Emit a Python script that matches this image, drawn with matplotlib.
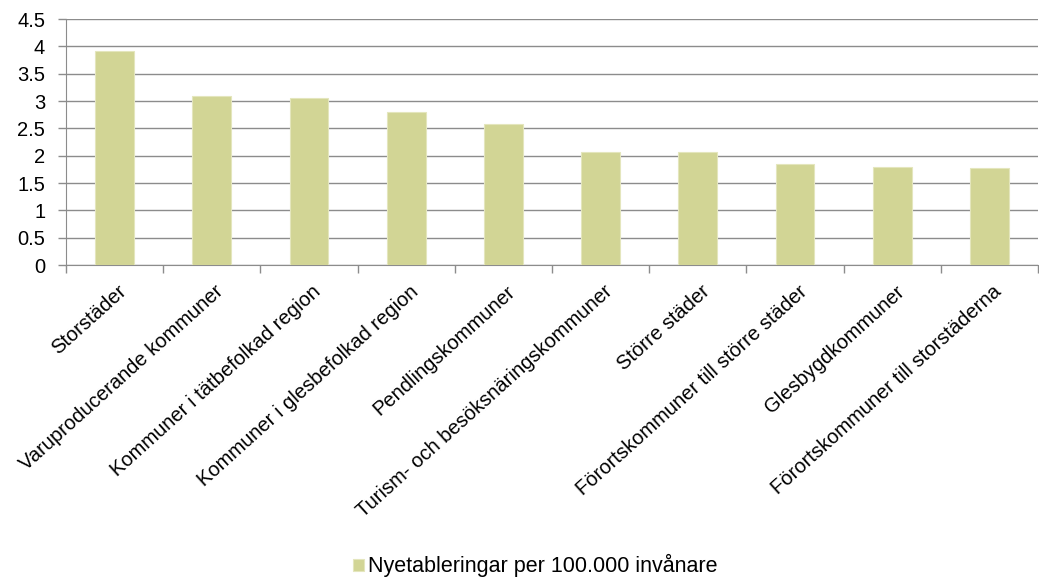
import matplotlib.pyplot as plt
import numpy as np

plt.rcParams['font.family'] = ['Liberation Sans', 'DejaVu Sans']

# kategorier och värden
kategorier = ['Storstäder', 'Varuproducerande kommuner', 'Kommuner i tätbefolkad region',
              'Kommuner i glesbefolkad region', 'Pendlingskommuner',
              'Turism- och besöksnäringskommuner', 'Större städer',
              'Förortskommuner till större städer', 'Glesbygdkommuner',
              'Förortskommuner till storstäderna']
varden = [3.91, 3.10, 3.05, 2.79, 2.58, 2.06, 2.06, 1.85, 1.80, 1.77]
serie_namn = 'Nyetableringar per 100.000 invånare'
yticks = [0, 0.5, 1, 1.5, 2, 2.5, 3, 3.5, 4, 4.5]

fig = plt.figure(figsize=(10.39, 5.85), dpi=100)
ax = fig.add_axes([0.0635, 0.547, 0.9355, 0.4205])

x = np.arange(len(kategorier))
ax.bar(x, varden, width=0.4, color='#D2D595', edgecolor='#E4E6BD', linewidth=0.8,
       label=serie_namn, zorder=3)

ax.set_xlim(-0.5, len(kategorier) - 0.5)
ax.set_ylim(0, 4.5)
ax.set_yticks(yticks)
ax.set_yticklabels([f'{v:g}' for v in yticks], fontsize=14.5)
ax.yaxis.grid(True, color='#8C8C8C', linewidth=1.0, zorder=0)

# kategoriticks mellan staplarna
ax.set_xticks(np.arange(-0.5, len(kategorier), 1.0))
ax.set_xticklabels([])
ax.tick_params(axis='x', length=6, color='#8C8C8C', width=1)
ax.tick_params(axis='y', length=6, color='#8C8C8C', width=1, pad=9)
for i, k in enumerate(kategorier):
    ax.annotate(k, xy=(i, 0), xycoords=('data', 'axes fraction'),
                xytext=(2, -12), textcoords='offset points',
                rotation=42, ha='right', va='top', fontsize=14.5,
                rotation_mode='anchor')

for s in ['top', 'right']:
    ax.spines[s].set_visible(False)
for s in ['left', 'bottom']:
    ax.spines[s].set_color('#8C8C8C')

fig.legend(loc='lower center', bbox_to_anchor=(0.515, -0.02), frameon=False,
           fontsize=15.5, handlelength=0.5, handleheight=0.5, handletextpad=0.2)

plt.savefig('out.png', dpi=100)
